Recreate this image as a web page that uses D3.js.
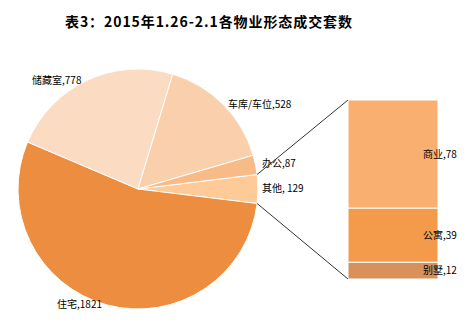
<!DOCTYPE html>
<html>
<head>
<meta charset="utf-8">
<script src="https://cdn.jsdelivr.net/npm/d3@7"></script>
<style>
  body { margin: 0; background: #fff; }
  text { font-family: "Noto Sans CJK SC", "DejaVu Sans", sans-serif; }
</style>
</head>
<body>
<div id="chart"></div>
<script>
const title = "表3：2015年1.26-2.1各物业形态成交套数";

// pie slices, clockwise starting at 其他
const pieNames = ["其他", "住宅", "储藏室", "车库/车位", "办公"];
const pieValues = [129, 1821, 778, 528, 87];
const pieLabels = ["其他, 129", "住宅,1821", "储藏室,778", "车库/车位,528", "办公,87"];
const pieColors = ["#fdca98", "#ec8d3f", "#fbdcc3", "#facfac", "#f8bb88"];

// breakdown of 其他
const barNames = ["商业", "公寓", "别墅"];
const barValues = [78, 39, 12];
const barLabels = ["商业,78", "公寓,39", "别墅,12"];
const barColors = ["#f8af70", "#f49b4b", "#d8915a"];

const width = 476, height = 327;
const cx = 138, cy = 189, r = 120;

const svg = d3.select("#chart").append("svg")
    .attr("width", width)
    .attr("height", height);

svg.append("text")
    .attr("x", 65).attr("y", 27)
    .attr("font-size", 14).attr("font-weight", "bold")
    .attr("textLength", 287).attr("lengthAdjust", "spacing")
    .attr("fill", "#000")
    .text(title);

const total = d3.sum(pieValues);
const otherAngle = pieValues[0] / total * 2 * Math.PI;
const start = Math.PI / 2 - otherAngle / 2;

const pie = d3.pie().sort(null).value(d => d)
    .startAngle(start).endAngle(start + 2 * Math.PI);
const arcs = pie(pieValues);
const arc = d3.arc().innerRadius(0).outerRadius(r);

const g = svg.append("g").attr("transform", `translate(${cx},${cy})`);
g.selectAll("path")
    .data(arcs)
    .join("path")
    .attr("d", arc)
    .attr("fill", (d, i) => pieColors[i])
    .attr("stroke", "#fff")
    .attr("stroke-width", 1);

// label positions
const pieLabelPos = [[262, 192], [57, 308], [32, 84], [228, 108], [262, 167]];
svg.selectAll(".plabel")
    .data(pieLabels)
    .join("text")
    .attr("class", "plabel")
    .attr("x", (d, i) => pieLabelPos[i][0])
    .attr("y", (d, i) => pieLabelPos[i][1])
    .attr("font-size", 10)
    .attr("fill", "#000")
    .text(d => d);

// bar of 其他
const barX = 348, barW = 90, barTop = 100, barBottom = 279;
const y = d3.scaleLinear().domain([0, d3.sum(barValues)]).range([barTop, barBottom]);
const cum = d3.cumsum(barValues);
const segs = barValues.map((v, i) => ({ y0: cum[i] - v, y1: cum[i] }));

svg.selectAll(".seg")
    .data(segs)
    .join("rect")
    .attr("class", "seg")
    .attr("x", barX)
    .attr("y", d => y(d.y0))
    .attr("width", barW)
    .attr("height", d => y(d.y1) - y(d.y0))
    .attr("fill", (d, i) => barColors[i])
    .attr("stroke", "#fff")
    .attr("stroke-width", 1);

svg.selectAll(".blabel")
    .data(segs)
    .join("text")
    .attr("class", "blabel")
    .attr("x", 423)
    .attr("y", (d, i) => i === 2 ? y(d.y0) + 12 : (y(d.y0) + y(d.y1)) / 2 + 4)
    .attr("font-size", 10)
    .attr("fill", "#000")
    .text((d, i) => barLabels[i]);

// connector lines from 其他 slice edge to the bar corners
const a0 = arcs[0].startAngle, a1 = arcs[0].endAngle;
const p0 = [cx + r * Math.sin(a0), cy - r * Math.cos(a0)];
const p1 = [cx + r * Math.sin(a1), cy - r * Math.cos(a1)];
svg.append("line")
    .attr("x1", p0[0]).attr("y1", p0[1])
    .attr("x2", barX).attr("y2", barTop)
    .attr("stroke", "#333").attr("stroke-width", 1);
svg.append("line")
    .attr("x1", p1[0]).attr("y1", p1[1])
    .attr("x2", barX).attr("y2", barBottom)
    .attr("stroke", "#333").attr("stroke-width", 1);
</script>
</body>
</html>
